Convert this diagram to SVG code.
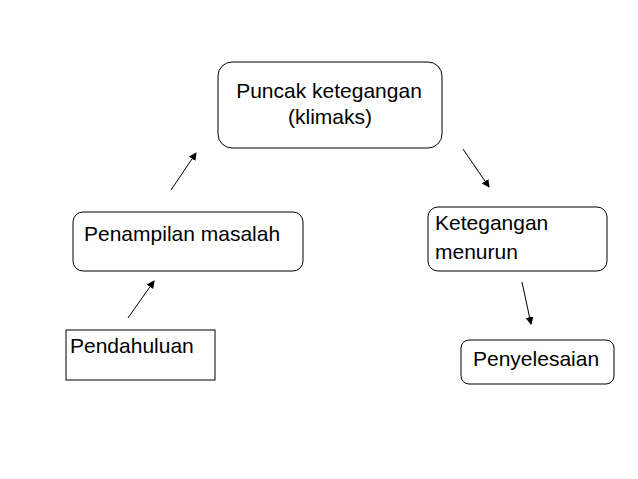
<svg xmlns="http://www.w3.org/2000/svg" width="638" height="479" viewBox="0 0 638 479">
<style>
.b{fill:#fff;stroke:#000;stroke-width:1}
.t{font-family:"Liberation Sans",Arial,sans-serif;font-size:21px;fill:#000}
.c{stroke:#000;stroke-width:1;fill:none;marker-end:url(#a)}
</style>
<defs><marker id="a" markerWidth="8" markerHeight="8" refX="7" refY="4" orient="auto" markerUnits="userSpaceOnUse"><path d="M0,0L8,4L0,8Z" fill="#000"/></marker></defs>
<rect width="638" height="479" fill="#fff"/>
<g id="klimaks"><rect class="b" x="218" y="62" width="224" height="86" rx="14"/><text class="t" x="329" y="98" text-anchor="middle">Puncak ketegangan</text><text class="t" x="330" y="124" text-anchor="middle">(klimaks)</text></g>
<g id="penampilan"><rect class="b" x="73" y="212" width="230" height="59" rx="10"/><text class="t" x="84" y="241">Penampilan masalah</text></g>
<g id="menurun"><rect class="b" x="428" y="207" width="179" height="64" rx="10"/><text class="t" x="435" y="230">Ketegangan</text><text class="t" x="435" y="259">menurun</text></g>
<g id="pendahuluan"><rect class="b" x="66" y="330" width="149" height="50"/><text class="t" x="70" y="353">Pendahuluan</text></g>
<g id="penyelesaian"><rect class="b" x="461" y="340" width="153" height="44" rx="8"/><text class="t" x="473" y="366">Penyelesaian</text></g>
<g id="connectors">
<line class="c" x1="171" y1="190" x2="196" y2="153"/>
<line class="c" x1="128" y1="318" x2="154" y2="281"/>
<line class="c" x1="463" y1="149" x2="489" y2="187"/>
<line class="c" x1="522" y1="282" x2="531" y2="324"/>
</g>
</svg>
